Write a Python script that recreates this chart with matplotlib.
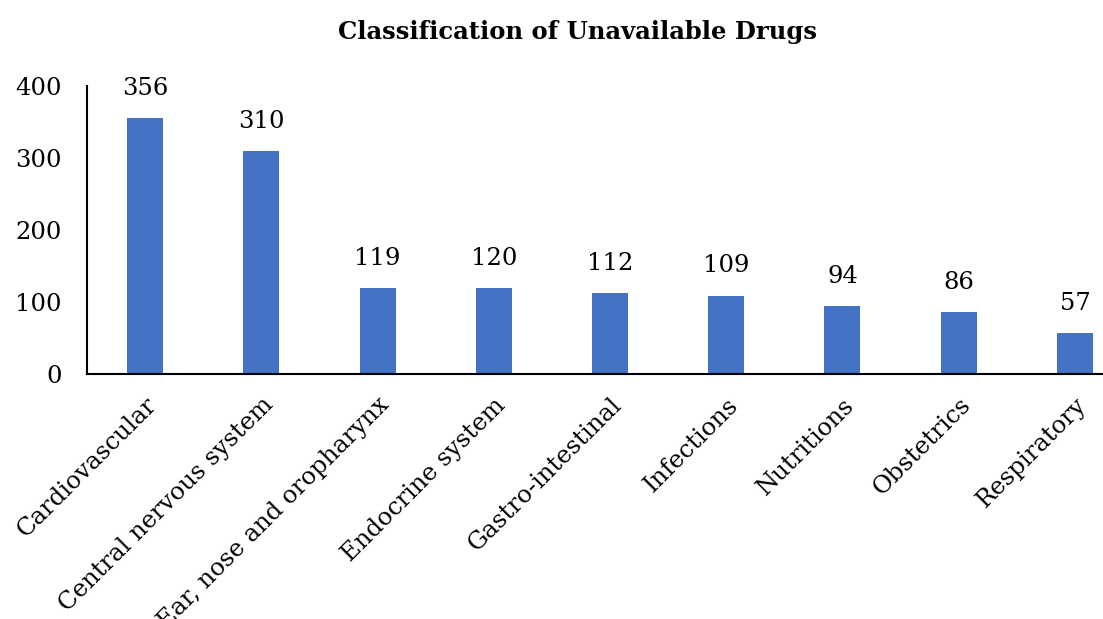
import matplotlib
matplotlib.use("Agg")
import matplotlib.pyplot as plt

categories = ["Cardiovascular", "Central nervous system", "Ear, nose and oropharynx",
              "Endocrine system", "Gastro-intestinal", "Infections", "Nutritions",
              "Obstetrics", "Respiratory"]
values = [356, 310, 119, 120, 112, 109, 94, 86, 57]
yticks = [0, 100, 200, 300, 400]

plt.rcParams['font.family'] = ['DejaVu Serif']

fig = plt.figure(figsize=(11.03, 6.19), dpi=100)
W, H = 1103, 619
ax = fig.add_axes([87 / W, 1 - 374 / H, 1046 / W, (374 - 86) / H])

x = list(range(len(categories)))
bars = ax.bar(x, values, width=0.31, color="#4472C4")
ax.set_xlim(-0.5, len(categories) - 0.5)
ax.set_ylim(0, 400)
ax.set_yticks(yticks)
ax.set_yticklabels([str(t) for t in yticks], fontsize=17.5)
ax.set_xticks(x)
ax.set_xticklabels(categories, rotation=45, ha="right", rotation_mode="anchor", fontsize=17.5)
ax.tick_params(axis="both", length=0)
ax.tick_params(axis="y", pad=18)
ax.tick_params(axis="x", pad=14)
for s in ["top", "right"]:
    ax.spines[s].set_visible(False)
ax.spines["left"].set_linewidth(1.5)
ax.spines["bottom"].set_linewidth(1.5)

for xi, v in zip(x, values):
    ax.annotate(str(v), (xi, v), xytext=(0, 13), textcoords="offset points",
                ha="center", va="bottom", fontsize=17.5)

fig.text(578 / W, 1 - 32 / H, "Classification of Unavailable Drugs", ha="center",
         va="center", fontsize=17.5, fontweight="bold")

fig.savefig("out.png", dpi=100)
